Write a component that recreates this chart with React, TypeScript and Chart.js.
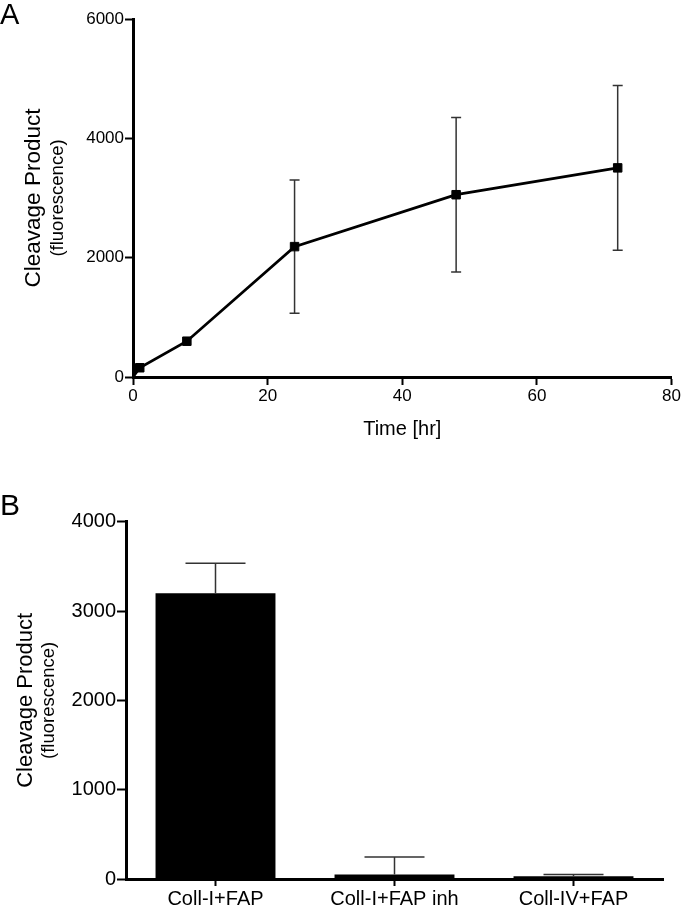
import React, { useEffect, useRef } from 'react';
import { Chart, registerables } from 'chart.js';

Chart.register(...registerables);

const FONT = '"Liberation Sans", Arial, Helvetica, sans-serif';

// ---- Panel A: time course ----
const timeHours = [0, 1, 8, 24, 48, 72];
const cleavageMean = [0, 155, 600, 2185, 3055, 3505];
const cleavageErr = [0, 0, 0, 1115, 1295, 1380];
const timeTicks = [0, 20, 40, 60, 80];
const fluorTicksA = [0, 2000, 4000, 6000];

// ---- Panel B: conditions ----
const conditions = ['Coll-I+FAP', 'Coll-I+FAP inh', 'Coll-IV+FAP'];
const conditionMean = [3200, 50, 30];
const conditionErr = [335, 195, 20];
const fluorTicksB = [0, 1000, 2000, 3000, 4000];

const W = 682;
const HA = 450;
const HB = 457;

function ChartA() {
  const ref = useRef<HTMLCanvasElement | null>(null);
  useEffect(() => {
    if (!ref.current) return;
    const errPlugin = {
      id: 'errA',
      beforeDatasetsDraw(chart: any) {
        const { ctx, scales } = chart;
        const x = scales.x, y = scales.y;
        ctx.save();
        ctx.strokeStyle = '#333';
        ctx.lineWidth = 1.5;
        timeHours.forEach((t, i) => {
          const e = cleavageErr[i];
          if (!e) return;
          const px = x.getPixelForValue(t);
          const pt = y.getPixelForValue(cleavageMean[i] + e);
          const pb = y.getPixelForValue(cleavageMean[i] - e);
          ctx.beginPath();
          ctx.moveTo(px, pt); ctx.lineTo(px, pb);
          ctx.moveTo(px - 5, pt); ctx.lineTo(px + 5, pt);
          ctx.moveTo(px - 5, pb); ctx.lineTo(px + 5, pb);
          ctx.stroke();
        });
        ctx.restore();
      },
    };
    const textPlugin = {
      id: 'textA',
      afterDraw(chart: any) {
        const { ctx, chartArea } = chart;
        ctx.save();
        ctx.fillStyle = '#000';
        ctx.textAlign = 'left';
        ctx.textBaseline = 'alphabetic';
        ctx.font = `29px ${FONT}`;
        ctx.fillText('A', 0, 24);
        ctx.textAlign = 'center';
        ctx.textBaseline = 'middle';
        ctx.font = `20px ${FONT}`;
        ctx.fillText('Time [hr]', (chartArea.left + chartArea.right) / 2, 429);
        const cy = (chartArea.top + chartArea.bottom) / 2;
        ctx.translate(34, cy);
        ctx.rotate(-Math.PI / 2);
        ctx.font = `22.5px ${FONT}`;
        ctx.fillText('Cleavage Product', 0, 0);
        ctx.font = `18.5px ${FONT}`;
        ctx.fillText('(fluorescence)', 0, 24);
        ctx.restore();
      },
    };
    const chart = new Chart(ref.current, {
      type: 'scatter',
      data: {
        datasets: [
          {
            data: timeHours.map((t, i) => ({ x: t, y: cleavageMean[i] })),
            showLine: true,
            borderColor: '#000',
            backgroundColor: '#000',
            borderWidth: 2.8,
            pointStyle: 'rect',
            pointRadius: timeHours.map((t) => (t === 0 ? 0 : 6)),
            pointBorderWidth: 1,
            pointBorderColor: '#000',
            pointBackgroundColor: '#000',
          },
        ],
      },
      options: {
        responsive: false,
        animation: false,
        layout: { padding: { left: 0, right: 9, top: 19, bottom: 0 } },
        plugins: { legend: { display: false }, tooltip: { enabled: false } },
        scales: {
          x: {
            type: 'linear',
            min: 0,
            max: 80,
            afterBuildTicks: (s: any) => { s.ticks = timeTicks.map((v) => ({ value: v })); },
            afterFit: (s: any) => { s.height = HA - 377; },
            ticks: { font: { family: FONT, size: 17 }, color: '#000', padding: 1, callback: (v: any) => String(v) },
            grid: { drawOnChartArea: false, drawTicks: true, tickLength: 8, tickWidth: 2, tickColor: '#000' },
            border: { display: true, width: 3, color: '#000' },
          },
          y: {
            type: 'linear',
            min: 0,
            max: 6000,
            afterBuildTicks: (s: any) => { s.ticks = fluorTicksA.map((v) => ({ value: v })); },
            afterFit: (s: any) => { s.width = 133; },
            ticks: { font: { family: FONT, size: 17 }, color: '#000', padding: 1, callback: (v: any) => String(v) },
            grid: { drawOnChartArea: false, drawTicks: true, tickLength: 8, tickWidth: 2, tickColor: '#000' },
            border: { display: true, width: 3, color: '#000' },
          },
        },
      },
      plugins: [errPlugin, textPlugin],
    } as any);
    return () => chart.destroy();
  }, []);
  return <canvas ref={ref} width={W} height={HA} style={{ position: 'absolute', left: 0, top: 0 }} />;
}

function ChartB() {
  const ref = useRef<HTMLCanvasElement | null>(null);
  useEffect(() => {
    if (!ref.current) return;
    const errPlugin = {
      id: 'errB',
      afterDatasetsDraw(chart: any) {
        const { ctx, scales } = chart;
        const x = scales.x, y = scales.y;
        ctx.save();
        ctx.strokeStyle = '#333';
        ctx.lineWidth = 1.5;
        conditions.forEach((c, i) => {
          const px = x.getPixelForValue(i);
          const pm = y.getPixelForValue(conditionMean[i]);
          const pt = y.getPixelForValue(conditionMean[i] + conditionErr[i]);
          ctx.beginPath();
          ctx.moveTo(px, pm); ctx.lineTo(px, pt);
          ctx.moveTo(px - 30, pt); ctx.lineTo(px + 30, pt);
          ctx.stroke();
        });
        ctx.restore();
      },
    };
    const textPlugin = {
      id: 'textB',
      afterDraw(chart: any) {
        const { ctx, chartArea } = chart;
        ctx.save();
        ctx.fillStyle = '#000';
        ctx.textAlign = 'left';
        ctx.textBaseline = 'alphabetic';
        ctx.font = `30px ${FONT}`;
        ctx.fillText('B', 0, 65);
        ctx.textAlign = 'center';
        ctx.textBaseline = 'middle';
        const cy = (chartArea.top + chartArea.bottom) / 2;
        ctx.translate(26, cy);
        ctx.rotate(-Math.PI / 2);
        ctx.font = `22px ${FONT}`;
        ctx.fillText('Cleavage Product', 0, 0);
        ctx.font = `18.5px ${FONT}`;
        ctx.fillText('(fluorescence)', 0, 23);
        ctx.restore();
      },
    };
    const chart = new Chart(ref.current, {
      type: 'bar',
      data: {
        labels: conditions,
        datasets: [
          {
            data: conditionMean,
            backgroundColor: '#000',
            borderWidth: 0,
            barPercentage: 0.67,
            categoryPercentage: 1,
          },
        ],
      },
      options: {
        responsive: false,
        animation: false,
        layout: { padding: { left: 0, right: 19, top: 71.7, bottom: 0 } },
        plugins: { legend: { display: false }, tooltip: { enabled: false } },
        scales: {
          x: {
            type: 'category',
            afterFit: (s: any) => { s.height = HB - 429; },
            ticks: { font: { family: FONT, size: 20 }, color: '#000', padding: 1, maxRotation: 0, autoSkip: false },
            grid: { offset: false, drawOnChartArea: false, drawTicks: true, tickLength: 7, tickWidth: 2, tickColor: '#000' },
            border: { display: true, width: 3, color: '#000' },
          },
          y: {
            type: 'linear',
            min: 0,
            max: 4000,
            afterBuildTicks: (s: any) => { s.ticks = fluorTicksB.map((v) => ({ value: v })); },
            afterFit: (s: any) => { s.width = 126; },
            ticks: { font: { family: FONT, size: 20 }, color: '#000', padding: 1, callback: (v: any) => String(v) },
            grid: { drawOnChartArea: false, drawTicks: true, tickLength: 9, tickWidth: 2, tickColor: '#000' },
            border: { display: true, width: 3, color: '#000' },
          },
        },
      },
      plugins: [errPlugin, textPlugin],
    } as any);
    return () => chart.destroy();
  }, []);
  return <canvas ref={ref} width={W} height={HB} style={{ position: 'absolute', left: 0, top: HA }} />;
}

export default function App() {
  return (
    <div style={{ position: 'absolute', left: 0, top: 0, width: W, height: HA + HB, background: '#fff' }}>
      <ChartA />
      <ChartB />
    </div>
  );
}
